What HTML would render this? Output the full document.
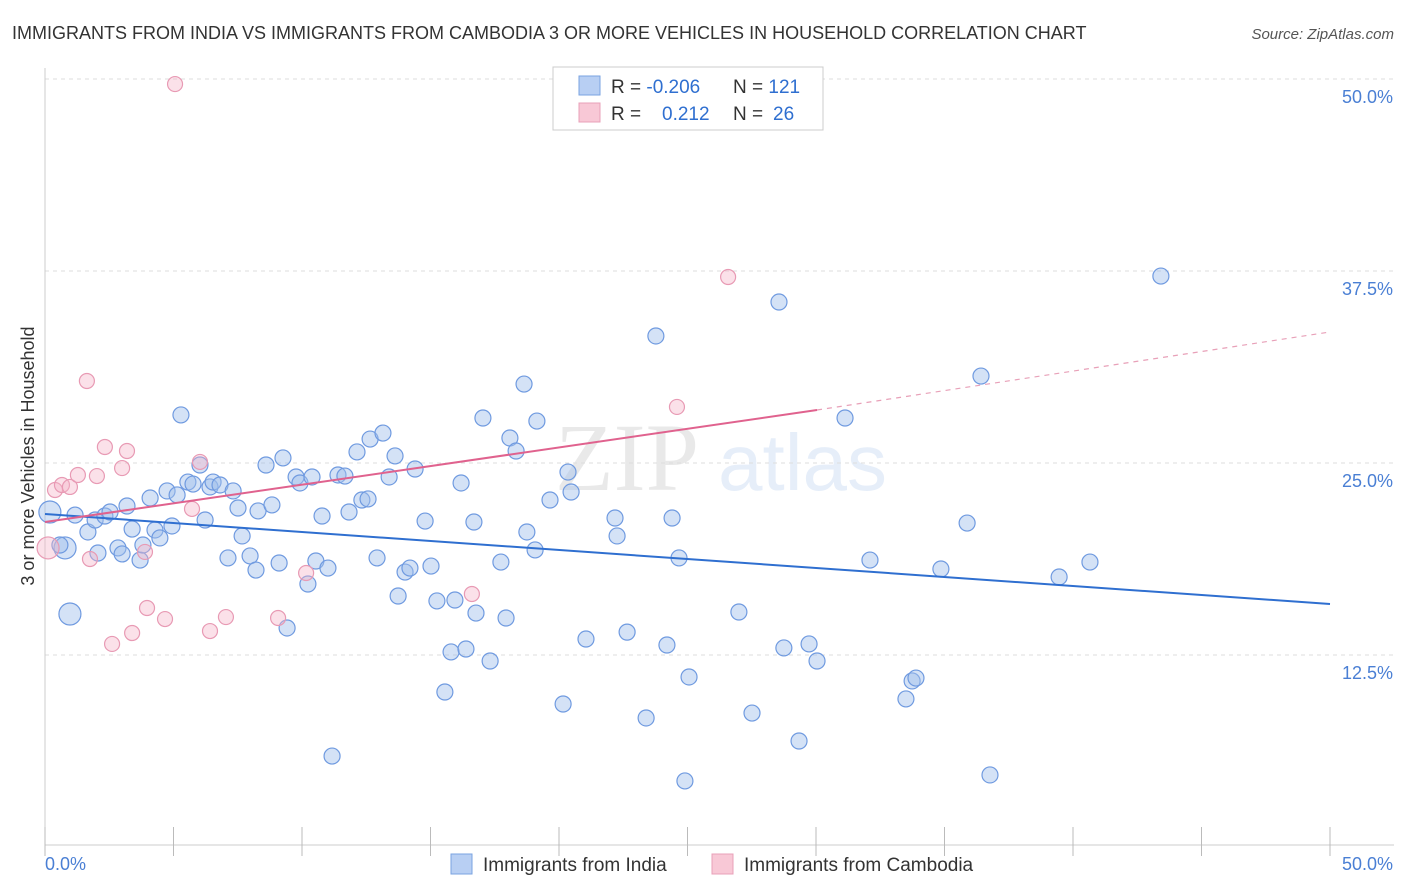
<!DOCTYPE html>
<html><head><meta charset="utf-8"><style>
body{margin:0;background:#fff;font-family:"Liberation Sans",sans-serif;}
svg{display:block}
</style></head><body>
<svg id="chart" width="1406" height="892" xmlns="http://www.w3.org/2000/svg">
<text x="12" y="39" font-size="18" fill="#333">IMMIGRANTS FROM INDIA VS IMMIGRANTS FROM CAMBODIA 3 OR MORE VEHICLES IN HOUSEHOLD CORRELATION CHART</text>
<text x="1394" y="39" font-size="15" fill="#555" font-style="italic" text-anchor="end">Source: ZipAtlas.com</text>
<g opacity="0.12">
<text x="555" y="490" font-size="96" font-family="Liberation Serif,serif" fill="#555">ZIP</text>
<text x="718" y="490" font-size="80" fill="#3a78d0">atlas</text>
</g>
<g id="grid"></g>
<g id="axes"></g>
<g id="pts"></g>
<g id="trends"></g>
<text transform="translate(34,456) rotate(-90)" font-size="18" fill="#333" text-anchor="middle">3 or more Vehicles in Household</text>
<g>
<rect x="553" y="67" width="270" height="63" fill="#fff" stroke="#ccc"/>
<rect x="579" y="76" width="21" height="19" fill="#b8cff3" stroke="#7aa3e0"/>
<rect x="579" y="103" width="21" height="19" fill="#f8c8d6" stroke="#e8a0b8"/>
<text x="611" y="93" font-size="19" fill="#333">R = <tspan fill="#2f6fd0">-0.206</tspan><tspan x="733">N = </tspan><tspan fill="#2f6fd0">121</tspan></text>
<text x="611" y="120" font-size="19" fill="#333">R = <tspan x="662" fill="#2f6fd0">0.212</tspan><tspan x="733">N = </tspan><tspan x="773" fill="#2f6fd0">26</tspan></text>
</g>
<g>
<rect x="451" y="854" width="21" height="20" fill="#b8cff3" stroke="#7aa3e0"/>
<text x="483" y="871" font-size="19" fill="#333">Immigrants from India</text>
<rect x="712" y="854" width="21" height="20" fill="#f8c8d6" stroke="#e8a0b8"/>
<text x="744" y="871" font-size="19" fill="#333">Immigrants from Cambodia</text>
</g>
</svg>
<script>
const indiaX=[0.19,1.17,0.78,0.58,0.97,1.67,1.95,2.06,2.33,2.53,2.84,3.0,3.19,3.39,3.7,3.81,4.09,4.28,4.47,4.75,4.94,5.14,5.29,5.56,5.76,6.03,6.23,6.42,6.54,6.81,7.32,7.51,7.67,7.12,7.98,8.21,8.29,8.6,8.83,9.11,9.26,9.42,9.77,9.92,10.23,10.39,10.54,10.78,11.01,11.4,11.67,11.83,12.14,12.33,12.57,12.65,12.92,13.15,13.39,13.62,13.74,14.01,14.2,14.4,14.79,15.02,15.25,15.56,15.8,15.95,16.19,16.38,16.69,16.77,17.04,17.32,17.74,17.94,18.09,18.33,18.64,18.75,19.07,19.14,19.65,20.16,20.35,20.47,21.05,22.18,22.26,22.65,23.39,23.77,24.2,24.4,24.67,24.9,25.06,27.0,27.51,28.56,28.75,29.34,29.73,30.04,31.13,32.1,33.5,33.74,33.89,34.86,35.88,36.42,36.77,39.46,40.66,43.42,11.17];
const indiaY=[21.81,21.61,19.47,19.66,15.17,20.51,21.29,19.14,21.55,21.81,19.47,19.08,22.2,20.7,18.68,19.66,22.72,20.64,20.12,23.18,20.9,22.92,28.13,23.76,23.63,24.87,21.29,23.44,23.76,23.57,23.18,22.07,20.25,18.82,18.95,18.03,21.88,24.87,22.27,18.49,25.33,14.26,24.09,23.7,17.12,24.09,18.62,21.55,18.16,24.22,24.15,21.81,25.72,22.59,22.66,26.56,18.82,26.95,24.09,25.46,16.34,17.9,18.16,24.61,21.22,18.29,16.02,10.09,12.7,16.08,23.7,12.89,21.16,15.23,27.93,12.11,18.55,14.91,26.63,25.78,30.14,20.51,19.34,27.73,22.59,9.31,24.41,23.11,13.54,21.42,20.25,13.99,8.4,33.27,13.15,21.42,18.82,4.3,11.07,15.3,8.72,35.48,12.96,6.9,13.22,12.11,27.93,18.68,9.64,10.81,11.0,18.1,21.09,30.66,4.69,17.58,18.55,37.17,5.92];
const indiaBig=[0,2,4];
const cambX=[0.12,0.39,0.66,0.97,1.28,1.63,1.75,2.02,2.33,2.61,3.0,3.19,3.39,3.89,3.97,4.67,5.06,5.72,6.03,6.42,7.04,9.07,10.16,16.61,24.59,26.58];
const cambY=[19.47,23.24,23.57,23.44,24.22,30.34,18.75,24.15,26.04,13.22,24.67,25.78,13.93,19.21,15.56,14.84,49.67,22.01,25.07,14.06,14.97,14.91,17.84,16.47,28.65,37.11];
const cambBig=[0];
const indiaTrendX=[0,50];
const indiaTrendY=[21.68,15.82];
const cambTrendX=[0,30.04,50];
const cambTrendY=[21.16,28.45,33.53];
const yTicks=[12.5,25,37.5,50];
const yTickLabels=["12.5%","25.0%","37.5%","50.0%"];
const xTicks=[0,5,10,15,20,25,30,35,40,45,50];

const NS="http://www.w3.org/2000/svg";
const sx=v=>45+v*25.7;
const sy=v=>847-v*15.36;
function mk(tag,attrs,parent){const e=document.createElementNS(NS,tag);for(const k in attrs)e.setAttribute(k,attrs[k]);parent.appendChild(e);return e;}
const grid=document.getElementById('grid'),axes=document.getElementById('axes'),pts=document.getElementById('pts'),tr=document.getElementById('trends');
yTicks.forEach((t,i)=>{
  const l=mk('line',{x1:45,x2:1394,y1:sy(t),y2:sy(t),stroke:'#ddd','stroke-dasharray':'4,4'},grid);
  
  
  const tx=mk('text',{x:1393,y:sy(t)+24,'font-size':18,fill:'#4a7fd4','text-anchor':'end'},axes);
  tx.textContent=yTickLabels[i];
  
  
});
const xl=mk('line',{x1:45,x2:1394,y1:845,y2:845,stroke:'#ccc'},axes);


const yl=mk('line',{x1:45,x2:45,y1:68,y2:845,stroke:'#ccc'},axes);


xTicks.forEach(t=>{
  const l=mk('line',{x1:sx(t),x2:sx(t),y1:827,y2:856,stroke:'#bbb'},axes);
  
  
});
const x0=mk('text',{x:45,y:870,'font-size':18,fill:'#4a7fd4'},axes);x0.textContent='0.0%';


const x1=mk('text',{x:1393,y:870,'font-size':18,fill:'#4a7fd4','text-anchor':'end'},axes);x1.textContent='50.0%';


indiaX.forEach((v,i)=>{
  const c=mk('circle',{cx:sx(v),cy:sy(indiaY[i]),r:indiaBig.includes(i)?11:8,fill:'rgba(160,190,235,0.45)',stroke:'#6f9ae0','stroke-width':1.2},pts);
  
  
});
cambX.forEach((v,i)=>{
  const c=mk('circle',{cx:sx(v),cy:sy(cambY[i]),r:cambBig.includes(i)?11:7.5,fill:'rgba(245,180,200,0.4)',stroke:'#e89ab4','stroke-width':1.2},pts);
  
  
});
const bl=mk('line',{x1:sx(indiaTrendX[0]),y1:sy(indiaTrendY[0]),x2:sx(indiaTrendX[1]),y2:sy(indiaTrendY[1]),stroke:'#2f6fd0','stroke-width':2},tr);


const pl=mk('line',{x1:sx(cambTrendX[0]),y1:sy(cambTrendY[0]),x2:sx(cambTrendX[1]),y2:sy(cambTrendY[1]),stroke:'#e0628e','stroke-width':2},tr);


const pd=mk('line',{x1:sx(cambTrendX[1]),y1:sy(cambTrendY[1]),x2:sx(cambTrendX[2]),y2:sy(cambTrendY[2]),stroke:'#e8a0b8','stroke-width':1.2,'stroke-dasharray':'5,5'},tr);


</script>
</body></html>
